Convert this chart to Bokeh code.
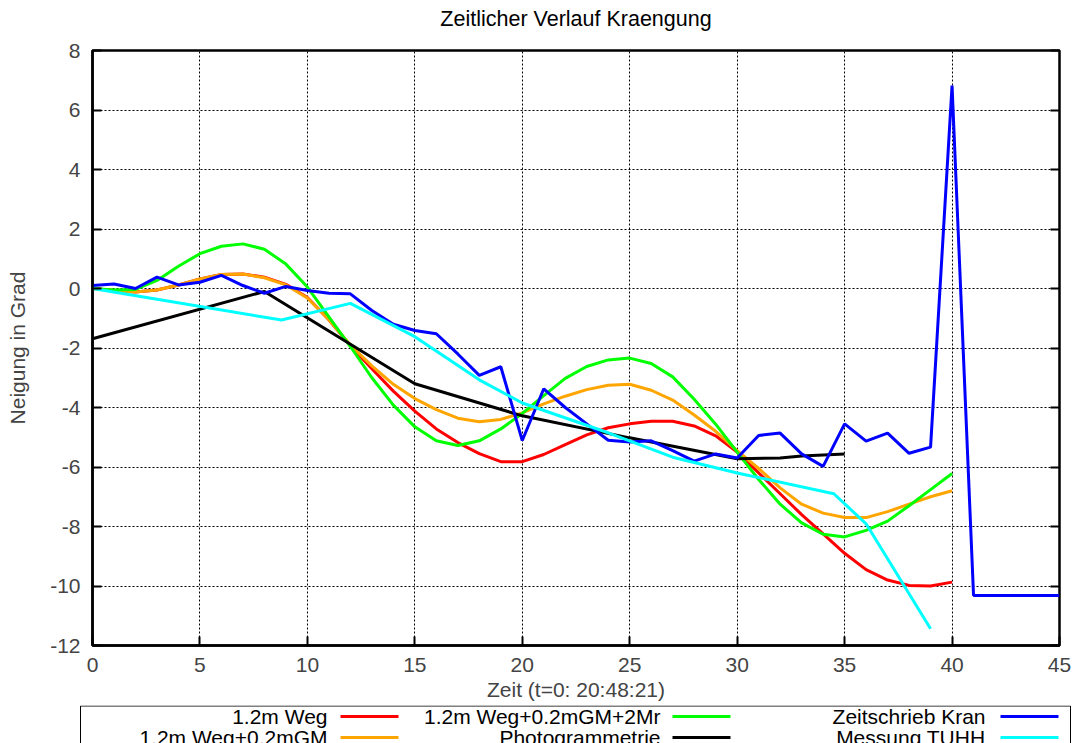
from bokeh.plotting import figure
from bokeh.models import Range1d, FixedTicker, LinearAxis
from bokeh.layouts import column
from bokeh.embed import file_html
from bokeh.resources import INLINE
from bokeh.core.properties import value

# ---------------- data ----------------
t_sim = list(range(0, 41))
weg = [0.0, -0.07, -0.12, -0.05, 0.12, 0.32, 0.47, 0.49, 0.38, 0.14,
       -0.3, -1.05, -1.92, -2.7, -3.45, -4.12, -4.72, -5.18, -5.55, -5.82,
       -5.82, -5.58, -5.25, -4.92, -4.68, -4.55, -4.46, -4.46, -4.62, -4.95,
       -5.5, -6.2, -6.9, -7.6, -8.25, -8.9, -9.45, -9.8, -9.98, -10.0, -9.87]
weg_gm = [0.0, -0.07, -0.12, -0.05, 0.12, 0.32, 0.47, 0.49, 0.36, 0.12,
          -0.32, -1.05, -1.9, -2.6, -3.22, -3.7, -4.07, -4.36, -4.48, -4.4,
          -4.18, -3.88, -3.62, -3.4, -3.25, -3.22, -3.42, -3.75, -4.25, -4.8,
          -5.45, -6.05, -6.7, -7.25, -7.55, -7.7, -7.7, -7.5, -7.25, -7.0, -6.8]
weg_gm_mr = [0.0, -0.05, -0.03, 0.27, 0.75, 1.17, 1.42, 1.5, 1.32, 0.82,
             0.05, -0.95, -1.95, -3.0, -3.92, -4.65, -5.12, -5.28, -5.12, -4.72,
             -4.2, -3.6, -3.02, -2.62, -2.4, -2.34, -2.52, -2.97, -3.72, -4.56,
             -5.5, -6.42, -7.25, -7.88, -8.26, -8.35, -8.13, -7.82, -7.3, -6.76, -6.22]

t_photo = [0, 8, 15, 20, 25, 30, 32, 33, 35]
photo = [-1.69, -0.1, -3.2, -4.28, -5.02, -5.72, -5.7, -5.63, -5.56]

t_kran = list(range(0, 46))
kran = [0.1, 0.15, 0.0, 0.38, 0.12, 0.21, 0.44, 0.1, -0.16, 0.07,
        -0.07, -0.16, -0.18, -0.74, -1.2, -1.41, -1.52, -2.2, -2.92, -2.63,
        -5.11, -3.37, -4.0, -4.55, -5.1, -5.16, -5.12, -5.45, -5.8, -5.56,
        -5.7, -4.94, -4.86, -5.56, -5.98, -4.55, -5.13, -4.86, -5.54, -5.33,
        6.82, -10.32, -10.32, -10.32, -10.32, -10.32]

t_tuhh = [0, 8.8, 12, 15, 18, 20, 24, 27, 30, 34.5, 36, 39]
tuhh = [0.0, -1.06, -0.5, -1.62, -3.07, -3.85, -4.85, -5.67, -6.2, -6.9, -7.91, -11.44]

x_ticks = [0, 5, 10, 15, 20, 25, 30, 35, 40, 45]
y_ticks = [-12, -10, -8, -6, -4, -2, 0, 2, 4, 6, 8]

title_text = "Zeitlicher Verlauf Kraengung"
names = ["1.2m Weg", "1.2m Weg+0.2mGM", "1.2m Weg+0.2mGM+2Mr",
         "Photogrammetrie", "Zeitschrieb Kran", "Messung TUHH"]
colors = ["#ff0000", "#ffa500", "#00ff00", "#000000", "#0000ff", "#00ffff"]

FONT = "Liberation Sans"
FS = "21px"
W = 1079
HEAD_H = 36
MAIN_H = 705 - HEAD_H
LEG_H = 743 - 705

def strip(h):
    f = figure(width=W, height=h, x_range=Range1d(0, W), y_range=Range1d(h, 0),
               output_backend="svg", toolbar_location=None,
               x_axis_type=None, y_axis_type=None, min_border=0)
    f.frame_align = False
    f.outline_line_color = None
    f.background_fill_color = "white"
    f.border_fill_color = "white"
    return f

# ---------------- title strip ----------------
hd = strip(HEAD_H)
hd.text(x=[(92 + 1059) / 2], y=[18], text=[title_text], text_align="center",
        text_baseline="middle", text_font=value(FONT), text_font_size="21.5px",
        text_color="black")

# ---------------- main plot ----------------
p = figure(width=W, height=MAIN_H, x_range=Range1d(0, 45), y_range=Range1d(-12, 8),
           output_backend="svg", toolbar_location=None,
           min_border_left=92, min_border_right=20, min_border_top=14, min_border_bottom=60)
p.frame_align = False
p.background_fill_color = "white"
p.border_fill_color = "white"
p.outline_line_color = "black"
p.outline_line_width = 2.5

p.xaxis.ticker = FixedTicker(ticks=x_ticks)
p.yaxis.ticker = FixedTicker(ticks=y_ticks)
p.xgrid.ticker = FixedTicker(ticks=x_ticks)
p.ygrid.ticker = FixedTicker(ticks=y_ticks)
p.xaxis.major_label_overrides = {v: str(v) for v in x_ticks}
p.yaxis.major_label_overrides = {v: str(v) for v in y_ticks}
p.grid.grid_line_color = "black"
p.grid.grid_line_dash = "2 2"
p.grid.grid_line_width = 1

for ax in (p.xaxis[0], p.yaxis[0]):
    ax.axis_line_color = "black"
    ax.axis_line_width = 2.5
    ax.major_tick_in = 9
    ax.major_tick_out = 0
    ax.major_tick_line_width = 2
    ax.minor_tick_line_color = None
    ax.major_label_text_font = FONT
    ax.major_label_text_font_size = FS
    ax.axis_label_text_font = FONT
    ax.axis_label_text_font_size = FS
    ax.axis_label_text_font_style = "normal"

p.xaxis.axis_label = "Zeit (t=0: 20:48:21)"
p.xaxis.major_label_standoff = 12
p.xaxis.axis_label_standoff = 3
p.yaxis.axis_label = "Neigung in Grad"
p.yaxis.major_label_standoff = 12
p.yaxis.axis_label_standoff = 18

# mirrored ticks on the right side
right_ax = LinearAxis(ticker=FixedTicker(ticks=y_ticks))
right_ax.axis_line_color = None
right_ax.major_tick_in = 9
right_ax.major_tick_out = 0
right_ax.major_tick_line_width = 2
right_ax.minor_tick_line_color = None
right_ax.major_label_text_color = None
right_ax.major_label_text_font_size = "1px"
right_ax.major_label_standoff = 0
p.add_layout(right_ax, "right")

series = [(t_sim, weg), (t_sim, weg_gm), (t_sim, weg_gm_mr),
          (t_photo, photo), (t_kran, kran), (t_tuhh, tuhh)]
for (xs, ys), c in zip(series, colors):
    p.line(xs, ys, line_color=c, line_width=3)

# ---------------- legend strip ----------------
lg = strip(LEG_H)
box_left, box_right, box_top = 80, 1070, 0.5
lg.multi_line(xs=[[box_left, box_left, box_right, box_right]],
              ys=[[LEG_H, box_top, box_top, LEG_H]], line_color="black", line_width=1)

col_text_right = [327, 660, 985]
col_line_start = [340, 672, 1000]
line_len = 58
row_y = [11, 32]
order = [(0, 0), (0, 1), (1, 0), (1, 1), (2, 0), (2, 1)]  # (column,row) per series

tx = [col_text_right[c] for c, r in order]
ty = [row_y[r] for c, r in order]
lg.text(x=tx, y=ty, text=names, text_align="right", text_baseline="middle",
        text_font=value(FONT), text_font_size=FS, text_color="black")
lx0 = [col_line_start[c] for c, r in order]
lx1 = [col_line_start[c] + line_len for c, r in order]
lg.segment(x0=lx0, x1=lx1, y0=ty, y1=ty, line_color=colors, line_width=3)

layout = column(hd, p, lg, spacing=0)
open("out.html", "w").write(file_html(layout, INLINE))
